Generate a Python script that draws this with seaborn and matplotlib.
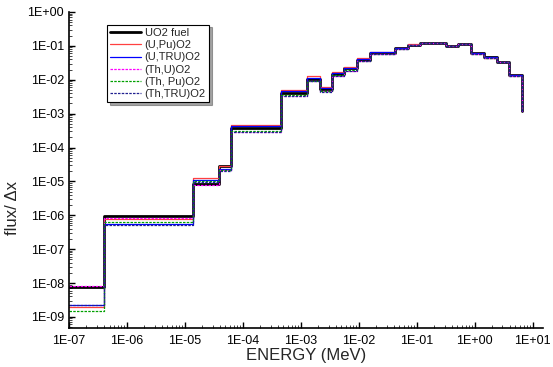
import numpy as np
import pandas as pd
import matplotlib
matplotlib.use("Agg")
import matplotlib.pyplot as plt
import matplotlib.ticker as mticker
import seaborn as sns

# group boundaries (MeV) - last point is where the spectrum ends
energy = [1e-7, 4e-7, 1.36e-5, 3.8e-5, 6.2e-5, 4.6e-4, 1.26e-3, 2.1e-3, 3.4e-3,
          5.6e-3, 9.3e-3, 1.55e-2, 4.2e-2, 7e-2, 0.115, 0.32, 0.52, 0.87, 1.43,
          2.37, 3.9, 6.6]

uo2 = [7.8e-9, 9.5e-7, 8.3e-6, 2.8e-5, 3.7e-4, 4.0e-3, 1.05e-2, 5.3e-3, 1.5e-2,
       2.15e-2, 3.9e-2, 6.1e-2, 8.4e-2, 1.08e-1, 1.22e-1, 9.8e-2, 1.14e-1, 6.1e-2,
       4.6e-2, 3.4e-2, 1.38e-2, 1.2e-3]
u_pu = [2.0e-9, 8.0e-7, 1.25e-5, 2.9e-5, 4.7e-4, 5.1e-3, 1.25e-2, 6.0e-3, 1.65e-2,
        2.35e-2, 4.3e-2, 6.7e-2, 8.8e-2, 1.10e-1, 1.23e-1, 9.7e-2, 1.12e-1, 6.0e-2,
        4.5e-2, 3.35e-2, 1.35e-2, 1.2e-3]
u_tru = [2.3e-9, 5.5e-7, 1.1e-5, 2.4e-5, 4.2e-4, 4.6e-3, 1.15e-2, 5.6e-3, 1.58e-2,
         2.25e-2, 4.1e-2, 6.4e-2, 8.6e-2, 1.09e-1, 1.22e-1, 9.7e-2, 1.13e-1, 6.1e-2,
         4.6e-2, 3.4e-2, 1.37e-2, 1.2e-3]
th_u = [8.0e-9, 8.4e-7, 7.6e-6, 2.1e-5, 2.8e-4, 3.3e-3, 9.0e-3, 4.6e-3, 1.3e-2,
        1.85e-2, 3.5e-2, 5.7e-2, 8.2e-2, 1.07e-1, 1.21e-1, 9.6e-2, 1.11e-1, 5.8e-2,
        4.4e-2, 3.3e-2, 1.32e-2, 1.2e-3]
th_pu = [1.5e-9, 6.5e-7, 1.0e-5, 2.1e-5, 3.1e-4, 3.6e-3, 9.5e-3, 4.8e-3, 1.35e-2,
         1.9e-2, 3.6e-2, 5.8e-2, 8.2e-2, 1.07e-1, 1.21e-1, 9.7e-2, 1.12e-1, 5.9e-2,
         4.5e-2, 3.3e-2, 1.33e-2, 1.2e-3]
th_tru = [2.2e-9, 5.3e-7, 9.5e-6, 2.0e-5, 2.8e-4, 3.3e-3, 9.0e-3, 4.5e-3, 1.3e-2,
          1.83e-2, 3.5e-2, 5.7e-2, 8.3e-2, 1.07e-1, 1.21e-1, 9.6e-2, 1.12e-1, 5.9e-2,
          4.5e-2, 3.3e-2, 1.33e-2, 1.2e-3]

labels = ["UO2 fuel", "(U,Pu)O2", "(U,TRU)O2", "(Th,U)O2", "(Th, Pu)O2", "(Th,TRU)O2"]
series = [uo2, u_pu, u_tru, th_u, th_pu, th_tru]

x_decades = list(range(-7, 2))
y_decades = list(range(-9, 1))

styles = [
    dict(color="black", lw=2.0, ls="-"),
    dict(color="#ff4040", lw=0.9, ls="-"),
    dict(color="#0000ff", lw=0.9, ls="-"),
    dict(color="#ff00ff", lw=0.9, ls=(0, (2, 1))),
    dict(color="#00a000", lw=0.9, ls=(0, (2, 1))),
    dict(color="#202090", lw=0.9, ls=(0, (2, 1))),
]

sns.set_style("ticks")
plt.rcParams["font.family"] = ["Liberation Sans", "DejaVu Sans"]

fig = plt.figure(figsize=(5.53, 3.67), dpi=100)
ax = fig.add_axes([69 / 553, 1 - 328 / 367, (543 - 69) / 553, (328 - 12) / 367])

for lab, vals, st in zip(labels, series, styles):
    df = pd.DataFrame({"energy": energy, "flux": vals})
    sns.lineplot(data=df, x="energy", y="flux", ax=ax, label=lab,
                 drawstyle="steps-post", **st)

ax.set_xscale("log")
ax.set_yscale("log")
ax.set_xlim(1e-7, 15)
ax.set_ylim(4.7e-10, 1.0)

def sci(d):
    return "1E{:+03d}".format(d)

ax.set_xticks([10.0 ** d for d in x_decades], [sci(d) for d in x_decades])
ax.set_yticks([10.0 ** d for d in y_decades], [sci(d) for d in y_decades])
ax.xaxis.set_minor_locator(mticker.LogLocator(base=10, subs=np.arange(2, 10), numticks=20))
ax.yaxis.set_minor_locator(mticker.LogLocator(base=10, subs=np.arange(2, 10), numticks=20))
ax.xaxis.set_minor_formatter(mticker.NullFormatter())
ax.yaxis.set_minor_formatter(mticker.NullFormatter())

ax.tick_params(which="major", direction="in", length=4, width=1, labelsize=9, colors="black")
ax.tick_params(which="minor", direction="in", length=2, width=0.6)
ax.tick_params(axis="x", pad=5)

for s in ["top", "right"]:
    ax.spines[s].set_visible(False)
for s in ["left", "bottom"]:
    ax.spines[s].set_linewidth(1.2)
    ax.spines[s].set_color("black")

ax.set_xlabel("ENERGY (MeV)", fontsize=12, labelpad=1)
ax.set_ylabel("flux/ Δx", fontsize=12)
ax.yaxis.set_label_coords(-0.103, 0.38)

leg = ax.legend(loc="upper left", bbox_to_anchor=(0.08, 0.96), fontsize=8,
                frameon=True, fancybox=False, shadow=True, handlelength=2.8,
                borderpad=0.3, labelspacing=0.2, handletextpad=0.3,
                borderaxespad=0)
leg.get_frame().set_edgecolor("black")
leg.get_frame().set_linewidth(0.8)

fig.savefig("out.png", dpi=100)
